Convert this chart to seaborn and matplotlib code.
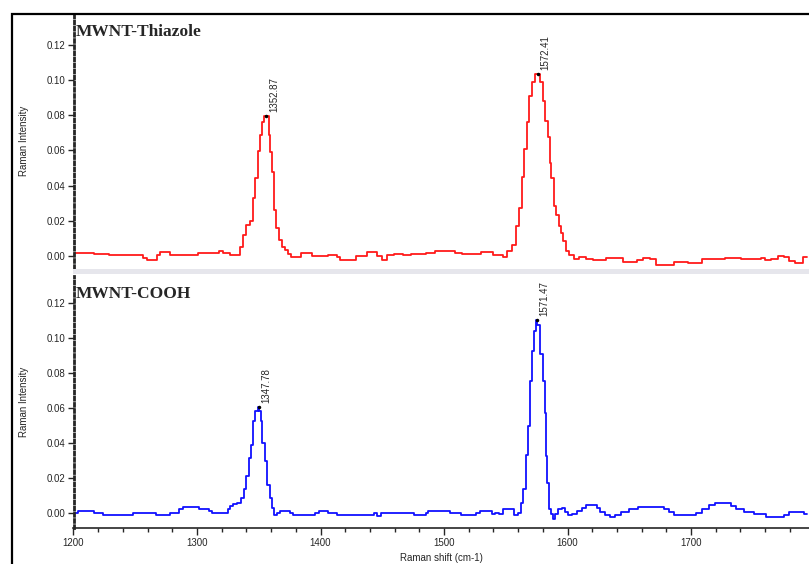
import matplotlib
matplotlib.use("Agg")
import matplotlib.pyplot as plt
from matplotlib.patches import Rectangle
import seaborn as sns
import pandas as pd

# Raman spectra (shift in cm-1, intensity)
thiazole_shift = [1200, 1202, 1210, 1216, 1218, 1228, 1230, 1255, 1258, 1261, 1266, 1269, 1271, 1277,
                  1280, 1300, 1302, 1316, 1320, 1322, 1326, 1328, 1334, 1336, 1339, 1341, 1344, 1346,
                  1348, 1350, 1352, 1354, 1355, 1357, 1359, 1360, 1362, 1363, 1365, 1367, 1370, 1373,
                  1375, 1378, 1382, 1387, 1392, 1395, 1405, 1407, 1412, 1414, 1417, 1427, 1430, 1436,
                  1439, 1444, 1447, 1452, 1456, 1463, 1471, 1475, 1481, 1489, 1497, 1505, 1513, 1516,
                  1529, 1531, 1538, 1542, 1546, 1549, 1553, 1557, 1560, 1562, 1564, 1566, 1568, 1570,
                  1573, 1575, 1577, 1579, 1581, 1583, 1585, 1586, 1588, 1590, 1592, 1594, 1596, 1597,
                  1600, 1603, 1607, 1612, 1618, 1623, 1630, 1632, 1639, 1643, 1647, 1654, 1658, 1664,
                  1669, 1675, 1683, 1689, 1696, 1699, 1707, 1710, 1726, 1729, 1739, 1742, 1755, 1758,
                  1762, 1767, 1774, 1777, 1781, 1787, 1794]
thiazole_int = [0.0017, 0.0017, 0.0017, 0.0017, 0.0012, 0.0012, 0.0003, 0.0003, -0.001, -0.0025,
                -0.0025, 0.0005, 0.002, 0.002, 0.0003, 0.0003, 0.0017, 0.0017, 0.0027, 0.0017, 0.0017,
                0.0003, 0.0003, 0.0053, 0.012, 0.0177, 0.02, 0.033, 0.0446, 0.0596, 0.069, 0.076,
                0.0796, 0.0796, 0.069, 0.059, 0.048, 0.026, 0.016, 0.009, 0.0053, 0.0034, 0.0011,
                -0.0005, -0.0005, 0.0017, 0.0017, -0.0003, -0.0003, 0.0003, 0.0003, -0.0005, -0.0025,
                -0.0025, 0.0, 0.0, 0.002, 0.002, 0.0, -0.0025, 0.0003, 0.0011, 0.0006, 0.0011, 0.0011,
                0.0017, 0.0026, 0.003, 0.0017, 0.0013, 0.0013, 0.002, 0.002, 0.0003, 0.0003, -0.0006,
                0.0026, 0.0063, 0.0168, 0.0272, 0.045, 0.0606, 0.076, 0.091, 0.0988, 0.1034, 0.1034,
                0.0988, 0.088, 0.0768, 0.0674, 0.053, 0.0444, 0.0282, 0.0234, 0.0168, 0.013, 0.0082,
                0.0026, 0.0007, -0.0016, -0.0005, -0.0016, -0.0022, -0.0022, -0.001, -0.001, -0.0012,
                -0.0033, -0.0033, -0.0025, -0.0012, -0.0018, -0.005, -0.005, -0.0033, -0.0033, -0.004,
                -0.004, -0.0018, -0.0018, -0.001, -0.001, -0.0018, -0.0018, -0.0012, -0.0022, -0.0015,
                0.0, -0.0005, -0.0028, -0.004, -0.0007]

cooh_shift = [1200, 1203, 1204, 1216, 1218, 1223, 1225, 1248, 1249, 1266, 1267, 1278, 1279, 1285,
              1286, 1292, 1301, 1303, 1309, 1311, 1314, 1324, 1326, 1328, 1331, 1334, 1337, 1339,
              1341, 1343, 1344, 1346, 1348, 1350, 1351, 1352, 1354, 1356, 1358, 1360, 1361, 1363,
              1366, 1369, 1374, 1376, 1379, 1394, 1397, 1401, 1405, 1407, 1413, 1414, 1443, 1444,
              1448, 1450, 1475, 1476, 1484, 1486, 1488, 1504, 1506, 1513, 1514, 1525, 1527, 1531,
              1537, 1540, 1543, 1546, 1549, 1556, 1558, 1561, 1563, 1565, 1567, 1569, 1571, 1572,
              1574, 1575, 1576, 1579, 1581, 1582, 1583, 1584, 1586, 1588, 1589, 1591, 1594, 1597,
              1599, 1602, 1606, 1610, 1613, 1617, 1622, 1625, 1628, 1632, 1636, 1641, 1646, 1653,
              1661, 1677, 1680, 1684, 1689, 1702, 1706, 1711, 1718, 1720, 1730, 1734, 1739, 1747,
              1755, 1766, 1773, 1777, 1782, 1789, 1794]
cooh_int = [0.0, 0.0, 0.001, 0.001, 0.0, 0.0, -0.0013, -0.0013, 0.0, 0.0, -0.0013, -0.0013, 0.0, 0.0,
            0.0023, 0.0034, 0.0034, 0.0023, 0.0023, 0.001, 0.0, 0.0, 0.0023, 0.0042, 0.0051, 0.0057,
            0.0086, 0.0137, 0.0213, 0.0314, 0.039, 0.0524, 0.058, 0.0604, 0.058, 0.0524, 0.04, 0.0295,
            0.0162, 0.0086, 0.0029, -0.0013, 0.0, 0.001, 0.001, 0.0, -0.0013, -0.0013, 0.0, 0.001,
            0.001, 0.0, 0.0, -0.0013, -0.0013, 0.0, -0.0015, 0.0, 0.0, -0.0013, -0.0013, 0.0, 0.001,
            0.001, 0.0002, 0.0002, -0.0011, -0.0011, 0.0002, 0.001, 0.001, -0.0005, 0.0002, -0.0005,
            0.0021, 0.0021, -0.0011, -0.0002, 0.0059, 0.0135, 0.033, 0.0497, 0.0754, 0.0926, 0.104,
            0.11, 0.1076, 0.0907, 0.0754, 0.0573, 0.0325, 0.0173, 0.0021, -0.0005, -0.0034, -0.0005,
            0.0021, 0.0029, 0.0008, -0.0011, -0.0005, 0.0013, 0.0029, 0.0048, 0.0048, 0.0029, 0.0008,
            -0.0011, -0.0023, -0.0011, 0.0008, 0.0021, 0.0034, 0.0034, 0.0021, 0.0008, -0.0011,
            -0.0011, 0.0002, 0.0021, 0.0046, 0.0056, 0.0056, 0.0042, 0.0021, 0.0008, -0.0005, -0.0023,
            -0.0023, -0.0011, 0.0008, 0.0008, -0.0005]

titles = ["MWNT-Thiazole", "MWNT-COOH"]
peak_labels = [["1352.87", "1572.41"], ["1347.78", "1571.47"]]
peak_pos = [[1356, 1576], [1350, 1575]]
peak_val = [[0.0796, 0.1034], [0.0604, 0.11]]
colors = ["#ff1a1a", "#1010ff"]
yticks = [0.00, 0.02, 0.04, 0.06, 0.08, 0.10, 0.12]
xticks = [1200, 1300, 1400, 1500, 1600, 1700]

sns.set_style("white")
plt.rcParams['font.family'] = ['Liberation Sans', 'DejaVu Sans']

W, H = 809, 564
fig = plt.figure(figsize=(W / 100, H / 100), dpi=100)

# outer frame and grey separator band
fig.patches.append(Rectangle((12 / W, -0.05), 1.0, (H - 14) / H + 0.05, transform=fig.transFigure,
                             fill=False, edgecolor='black', linewidth=1.6, zorder=0))
fig.patches.append(Rectangle((73 / W, (H - 274) / H), 1.0, 5 / H, transform=fig.transFigure,
                             facecolor='#e6e6ec', edgecolor='none', zorder=0))

ax_top = fig.add_axes([73.5 / W, (H - 268) / H, 1 - 73.5 / W, 254 / H])
ax_bot = fig.add_axes([73.5 / W, (H - 528) / H, 1 - 73.5 / W, 252 / H])
axes = [ax_top, ax_bot]

spectra = [pd.DataFrame({"shift": thiazole_shift, "intensity": thiazole_int}),
           pd.DataFrame({"shift": cooh_shift, "intensity": cooh_int})]
ylims = [(-0.0069, 0.1377), (-0.0086, 0.1354)]

for i, ax in enumerate(axes):
    ax.patch.set_alpha(0)
    sns.lineplot(data=spectra[i], x="shift", y="intensity", ax=ax, color=colors[i],
                 linewidth=1.3, drawstyle='steps-mid', estimator=None, sort=True)
    ax.set_xlim(1200, 1795.5)
    ax.set_ylim(*ylims[i])
    ax.set_yticks(yticks)
    ax.set_yticklabels([f"{t:.2f}" for t in yticks], fontsize=7)
    ax.set_ylabel("Raman Intensity", fontsize=7, labelpad=6)
    ax.yaxis.set_label_coords(-0.06, 0.5)
    ax.tick_params(axis='y', direction='out', length=4, width=1, pad=2, left=True)
    for s in ['top', 'right']:
        ax.spines[s].set_visible(False)
    ax.spines['left'].set_linestyle((0, (1, 1.2)))
    ax.spines['left'].set_linewidth(2)
    ax.text(0.003, 0.96, titles[i], transform=ax.transAxes, fontsize=12.5, fontweight='bold',
            family='Liberation Serif', va='top', ha='left')
    for lab, px, pv in zip(peak_labels[i], peak_pos[i], peak_val[i]):
        ax.annotate(lab, (px, pv), xytext=(2, 3), textcoords='offset points', rotation=90,
                    fontsize=7, ha='left', va='bottom')
        ax.plot([px], [pv], marker='o', markersize=1.5, color='black')

ax_top.spines['bottom'].set_visible(False)
ax_top.set_xticks([])
ax_top.set_xlabel("")

ax_bot.spines['bottom'].set_linewidth(1.2)
ax_bot.set_xticks(xticks)
ax_bot.set_xticks(range(1200, 1800, 20), minor=True)
ax_bot.set_xticklabels([str(t) for t in xticks], fontsize=7)
ax_bot.tick_params(axis='x', which='major', direction='out', length=5, width=1, pad=2, bottom=True)
ax_bot.tick_params(axis='x', which='minor', direction='out', length=3, width=1, bottom=True)
ax_bot.set_xlabel("Raman shift (cm-1)", fontsize=7, labelpad=4)

fig.savefig("out.png", dpi=100)
